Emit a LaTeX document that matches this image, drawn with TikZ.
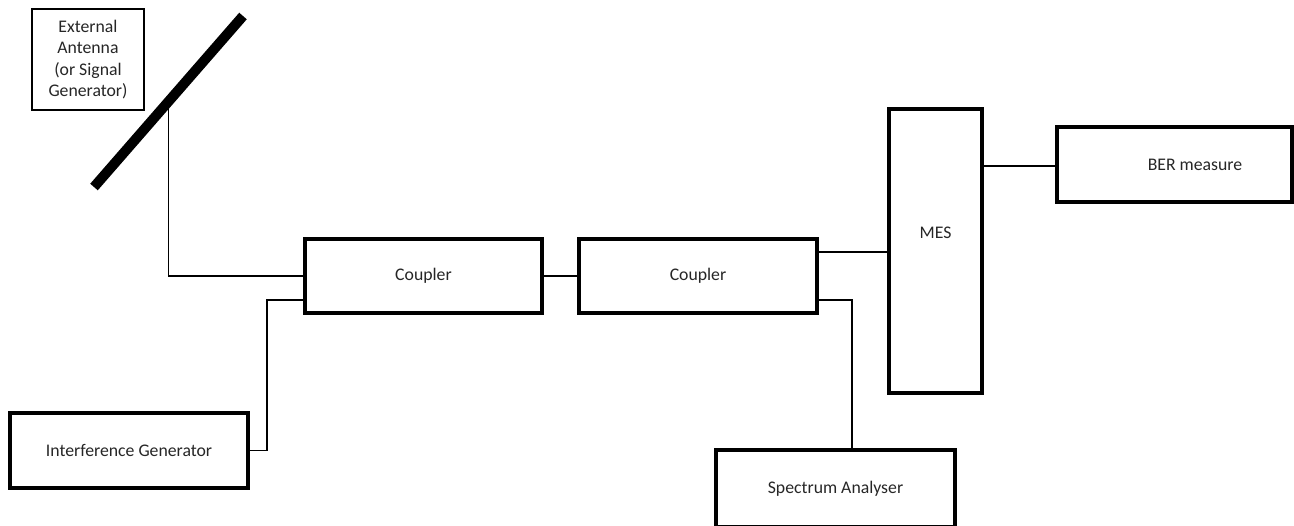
\documentclass[tikz,border=0pt]{standalone}
\usepackage{fontspec}
\setmainfont{Carlito}
\usetikzlibrary{calc}

\tikzset{
  blk/.style={draw, line width=3pt, inner sep=0pt, outer sep=0pt,
    font=\fontsize{13.3}{16}\selectfont, text=black!85},
  lbl/.style={inner sep=0pt, font=\fontsize{13.3}{16}\selectfont, text=black!85},
  wire/.style={line width=1.2pt},
}

\begin{document}
\begin{tikzpicture}[x=0.75pt, y=-0.75pt]
  \useasboundingbox (0,0) rectangle (1294,525);
  % name/centre x/centre y/width/height/text
  \foreach \name/\cx/\cy/\w/\h/\txt in {c1/423.5/276/237/74/Coupler,
      c2/698/276/238/74/Coupler, ig/129/450.5/238/75/Interference Generator,
      sa/835.5/488.5/239/77/Spectrum Analyser, mes/935.5/251/93/284/{},
      ber/1174.5/164.5/235/75/{}} {
    \node[blk, minimum width=\w*0.75pt, minimum height=\h*0.75pt] (\name) at (\cx,\cy) {\txt};
  }
  \node[lbl] (meslbl) at (935.5,233) {MES};
  \node[lbl] (berlbl) at (1195,165) {BER measure};
  \node[blk, line width=1.2pt, align=center, minimum width=112*0.75pt,
    minimum height=101*0.75pt] (ext) at (88,59.5) {External\\Antenna\\(or Signal\\Generator)};

  % antenna
  \coordinate (antlo) at (94,187);
  \coordinate (anthi) at (243,16);
  \coordinate (feed) at ($(antlo)!0.5!(anthi)$);
  \draw[wire] (feed) |- (c1.west);
  \draw[line width=7.5pt] (antlo) -- (anthi);

  \coordinate (c1in) at ($(c1.south west)+(0,-13)$);
  \draw[wire] (ig.east) -- ++(19,0) |- (c1in);
  \draw[wire] (c1.east) -- (c2.west);
  \coordinate (c2o1) at ($(c2.north east)+(0,13)$);
  \draw[wire] (c2o1) -- (c2o1 -| mes.west);
  \coordinate (c2o2) at ($(c2.south east)+(0,-13)$);
  \draw[wire] (c2o2) -| ($(sa.north)+(16.5,0)$);
  \coordinate (meso) at ($(mes.north east)+(0,57)$);
  \draw[wire] (meso) -- (meso -| ber.west);
\end{tikzpicture}
\end{document}
